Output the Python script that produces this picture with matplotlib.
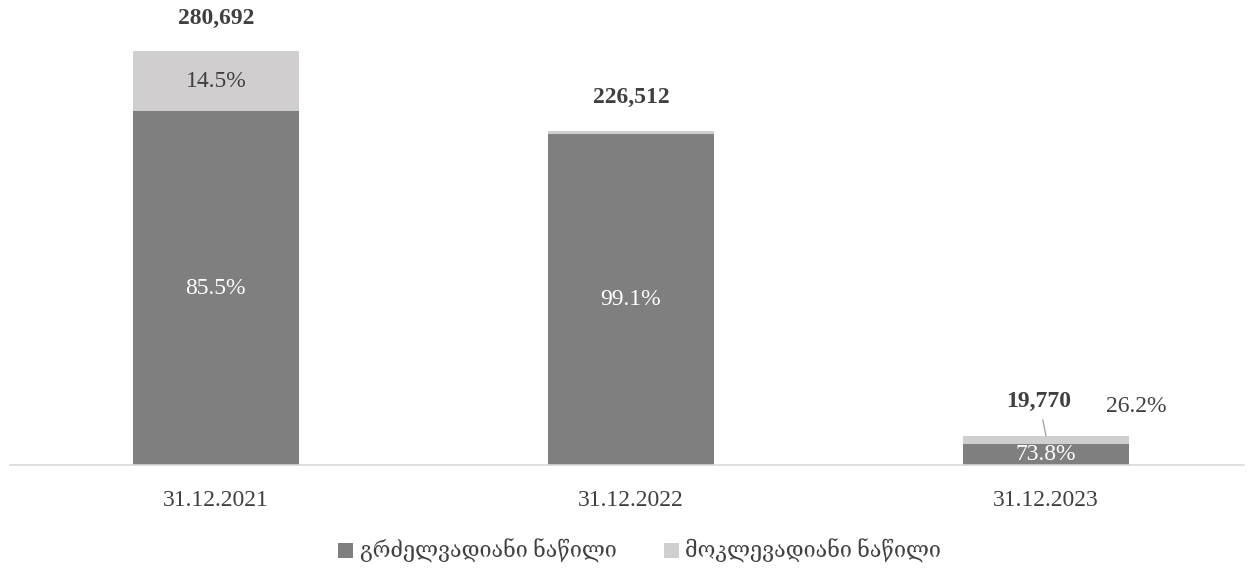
import matplotlib.pyplot as plt
import numpy as np

plt.rcParams['font.family'] = ['Liberation Serif', 'DejaVu Serif', 'DejaVu Sans']

CATEGORIES = ["31.12.2021", "31.12.2022", "31.12.2023"]
TOTALS = [280692, 226512, 19770]
LONG_PCT = [85.5, 99.1, 73.8]
SHORT_PCT = [14.5, 0.9, 26.2]
SERIES = ["გრძელვადიანი ნაწილი", "მოკლევადიანი ნაწილი"]

DARK = "#7f7f7f"
LIGHT = "#d0cece"
TXT = "#404040"

totals = np.array(TOTALS, dtype=float)
long_vals = totals * np.array(LONG_PCT) / 100
short_vals = totals * np.array(SHORT_PCT) / 100
x = np.arange(len(CATEGORIES))

fig = plt.figure(figsize=(12.54, 5.69), dpi=100)
ax = fig.add_axes([10 / 1254, 104 / 569, 1234 / 1254, 442 / 569])

b1 = ax.bar(x, long_vals, width=0.4, color=DARK, label=SERIES[0])
b2 = ax.bar(x, short_vals, width=0.4, bottom=long_vals, color=LIGHT, label=SERIES[1])

ax.set_xlim(-0.496, 2.477)
ax.set_ylim(0, 300000)

for i in range(len(x)):
    ax.text(x[i], long_vals[i] / 2, f"{LONG_PCT[i]}%", ha="center", va="center",
            color="white", fontsize=17)
    if i < 2:
        if SHORT_PCT[i] > 5:
            ax.text(x[i], long_vals[i] + short_vals[i] / 2, f"{SHORT_PCT[i]}%",
                    ha="center", va="center", color=TXT, fontsize=17)
        ax.annotate(f"{TOTALS[i]:,}", (x[i], totals[i]), xytext=(0, 24),
                    textcoords="offset points", ha="center", va="center",
                    fontsize=17, fontweight="bold", color=TXT)
    else:
        ax.annotate(f"{TOTALS[i]:,}", (x[i], totals[i]), xytext=(-5, 25),
                    textcoords="offset points", ha="center", va="center",
                    fontsize=17, fontweight="bold", color=TXT,
                    arrowprops=dict(arrowstyle="-", color="#a6a6a6", lw=1,
                                    shrinkA=4, shrinkB=0))
        ax.annotate(f"{SHORT_PCT[i]}%", (x[i], totals[i]), xytext=(65, 21),
                    textcoords="offset points", ha="center", va="center",
                    fontsize=17, color=TXT)

ax.set_xticks(x)
ax.set_xticklabels(CATEGORIES, fontsize=17, color=TXT)
ax.tick_params(axis="x", length=0, pad=18)
ax.set_yticks([])
for s in ["top", "left", "right"]:
    ax.spines[s].set_visible(False)
ax.spines["bottom"].set_color("#d9d9d9")
ax.spines["bottom"].set_linewidth(1.2)

leg = fig.legend(handles=[b1, b2], labels=SERIES, loc="center", bbox_to_anchor=(0.51, 0.032),
                 ncol=2, frameon=False, fontsize=15.5, handlelength=0.7, handleheight=0.7,
                 handletextpad=0.3, columnspacing=2.2)
for t in leg.get_texts():
    t.set_color(TXT)

fig.savefig("out.png", dpi=100)
